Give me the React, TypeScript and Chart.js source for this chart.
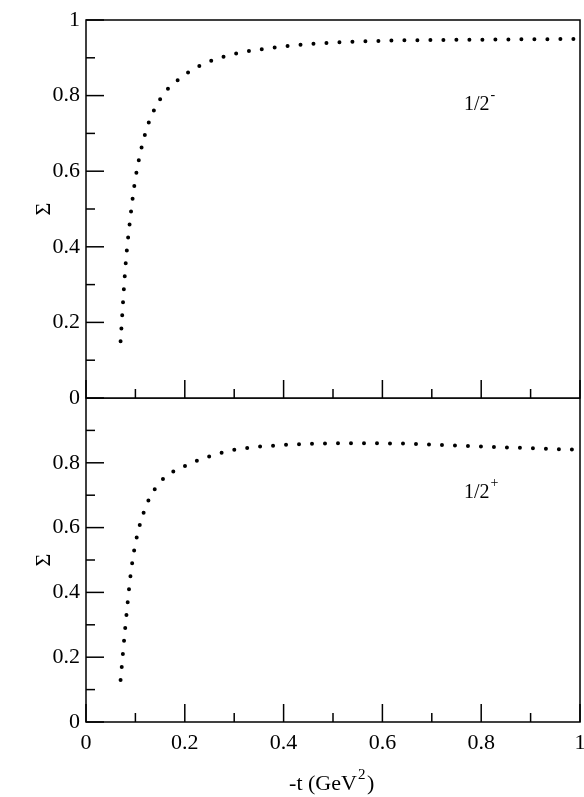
import { useEffect, useRef } from "react";
import { Chart, registerables } from "chart.js";

Chart.register(...registerables);

const xTop = [0.07, 0.08, 0.09, 0.1, 0.12, 0.15, 0.2, 0.25, 0.3, 0.4, 0.5, 0.6, 0.8, 1.0];
const yTop = [0.15, 0.35, 0.48, 0.58, 0.7, 0.79, 0.855, 0.89, 0.91, 0.93, 0.94, 0.945, 0.948, 0.95];
const xBottom = [0.07, 0.08, 0.09, 0.1, 0.12, 0.15, 0.2, 0.25, 0.3, 0.4, 0.5, 0.6, 0.8, 1.0];
const yBottom = [0.13, 0.3, 0.45, 0.55, 0.66, 0.74, 0.79, 0.82, 0.84, 0.855, 0.86, 0.86, 0.85, 0.84];
const xTickLabels = [0, 0.2, 0.4, 0.6, 0.8, 1];
const yTickLabelsTop = [0, 0.2, 0.4, 0.6, 0.8, 1];
const yTickLabelsBottom = [0, 0.2, 0.4, 0.6, 0.8];

const FONT = "'Liberation Serif', 'Times New Roman', serif";

// frame, inward ticks, tick labels, axis titles and panel label
function framePlugin(opts: any) {
  return {
    id: "frame",
    afterDraw(chart: any) {
      const { ctx, chartArea: a, scales } = chart;
      ctx.save();
      ctx.strokeStyle = "#000";
      ctx.fillStyle = "#000";
      ctx.lineWidth = 1.5;
      ctx.strokeRect(a.left, a.top, a.right - a.left, a.bottom - a.top);
      for (let i = 0; i <= 10; i++) {
        const v = i / 10;
        const len = i % 2 === 0 ? 18 : 9;
        const px = scales.x.getPixelForValue(v);
        ctx.beginPath();
        ctx.moveTo(px, a.bottom);
        ctx.lineTo(px, a.bottom - len);
        ctx.stroke();
        const py = scales.y.getPixelForValue(v);
        ctx.beginPath();
        ctx.moveTo(a.left, py);
        ctx.lineTo(a.left + len, py);
        ctx.stroke();
      }
      ctx.font = `22px ${FONT}`;
      ctx.textAlign = "right";
      ctx.textBaseline = "middle";
      for (const v of opts.yLabels) {
        ctx.fillText(String(v), a.left - 6, scales.y.getPixelForValue(v));
      }
      if (opts.showX) {
        ctx.textAlign = "center";
        ctx.textBaseline = "top";
        for (const v of xTickLabels) {
          ctx.fillText(String(v), scales.x.getPixelForValue(v), a.bottom + 10);
        }
        ctx.textBaseline = "alphabetic";
        const t = "-t (GeV";
        const cx = (a.left + a.right) / 2;
        ctx.textAlign = "left";
        const w1 = ctx.measureText(t).width;
        const x0 = cx - (w1 + 20) / 2;
        const by = a.bottom + 68;
        ctx.fillText(t, x0, by);
        ctx.font = `15px ${FONT}`;
        ctx.fillText("2", x0 + w1 + 1, by - 11);
        ctx.font = `22px ${FONT}`;
        ctx.fillText(")", x0 + w1 + 10, by);
      }
      // y title
      ctx.save();
      ctx.translate(44, (a.top + a.bottom) / 2);
      ctx.rotate(-Math.PI / 2);
      ctx.textAlign = "center";
      ctx.textBaseline = "middle";
      ctx.font = `22px ${FONT}`;
      ctx.fillText("Σ", 0, 0);
      ctx.restore();
      // panel label
      ctx.textAlign = "left";
      ctx.textBaseline = "alphabetic";
      ctx.font = `20px ${FONT}`;
      ctx.fillText("1/2", opts.lx, opts.ly);
      const w = ctx.measureText("1/2").width;
      ctx.font = `14px ${FONT}`;
      ctx.fillText(opts.sign, opts.lx + w + 1, opts.ly - 11);
      ctx.restore();
    },
  };
}

function Panel(props: any) {
  const { xs, ys, top, height, padding, z } = props;
  const ref = useRef<HTMLCanvasElement | null>(null);
  useEffect(() => {
    if (!ref.current) return;
    const chart = new Chart(ref.current, {
      type: "line",
      data: {
        datasets: [
          {
            data: xs.map((x: number, i: number) => ({ x, y: ys[i] })),
            borderColor: "#000",
            borderWidth: 4,
            borderDash: [0, 13],
            borderCapStyle: "round",
            pointRadius: 0,
            cubicInterpolationMode: "monotone",
            fill: false,
          },
        ],
      },
      options: {
        animation: false,
        responsive: false,
        layout: { padding },
        plugins: { legend: { display: false }, tooltip: { enabled: false } },
        scales: {
          x: { type: "linear", min: 0, max: 1, display: false },
          y: { type: "linear", min: 0, max: 1, display: false },
        },
      },
      plugins: [framePlugin(props)],
    } as any);
    return () => chart.destroy();
  }, []);
  return (
    <canvas
      ref={ref}
      width={584}
      height={height}
      style={{ position: "absolute", left: 0, top, width: 584, height, zIndex: z }}
    />
  );
}

export default function App() {
  return (
    <div style={{ position: "fixed", left: 0, top: 0, width: 584, height: 797, background: "#fff" }}>
      <Panel xs={xTop} ys={yTop} top={0} height={420} z={2}
        padding={{ top: 20, bottom: 22, left: 86, right: 4 }}
        showX={false} yLabels={yTickLabelsTop} sign="-" lx={464} ly={110} />
      <Panel xs={xBottom} ys={yBottom} top={398} height={399} z={1}
        padding={{ top: 0, bottom: 75, left: 86, right: 4 }}
        showX={true} yLabels={yTickLabelsBottom} sign="+" lx={464} ly={100} />
    </div>
  );
}
